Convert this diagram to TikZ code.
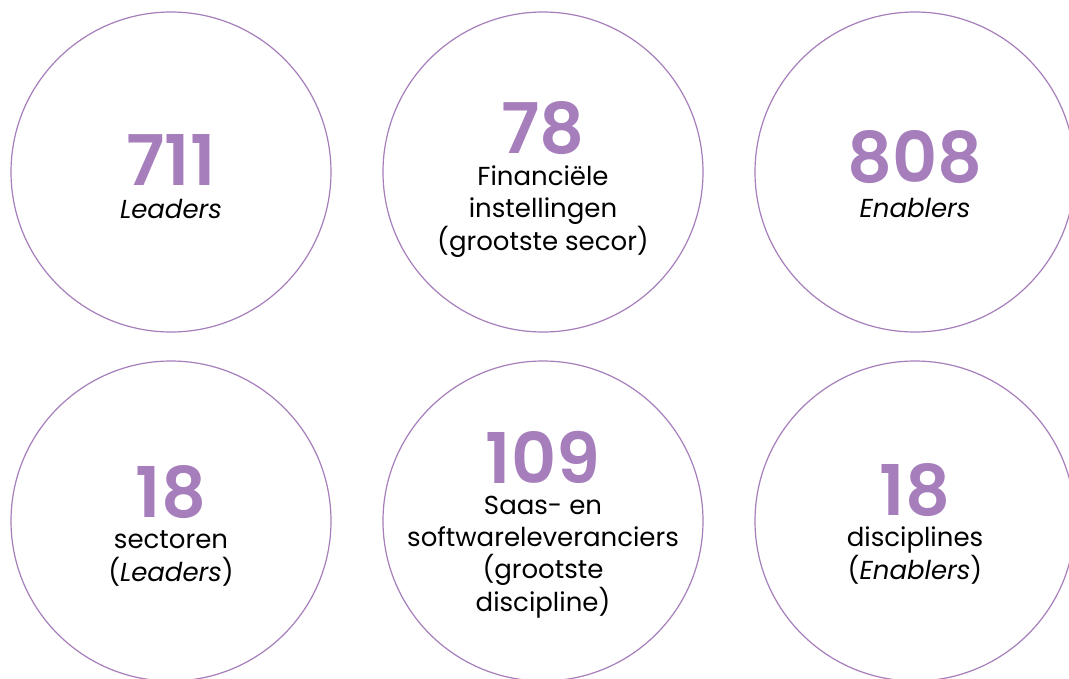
\documentclass[tikz,border=0pt]{standalone}
\usepackage{fontspec}
\setmainfont{Poppins}[UprightFont=*, ItalicFont=* Italic, BoldFont=* SemiBold, BoldFeatures={Numbers=Proportional}]
\usetikzlibrary{positioning}
\definecolor{statpurple}{HTML}{A67EBB}
\tikzset{
  ring/.style={circle,draw=statpurple,line width=1.2pt,minimum size=320pt,inner sep=0pt},
  bignum/.style={anchor=base,text=statpurple,inner sep=0pt,font=\fontsize{70}{70}\selectfont\bfseries},
  numtext/.style={anchor=base,align=center,inner sep=0pt,font=\fontsize{26}{32.3}\selectfont}
}

\begin{document}
\begin{tikzpicture}[x=1pt,y=-1pt] % key figures
        \clip (0,0) rectangle (1069,678);
        % top row
        \node[ring] (r1) at (171,172) {};
        \node[ring] (r2) at (543,172) {};
        \node[ring] (r3) at (915,172) {};
        % bottom row
        \node[ring] (r4) at (171,521) {};
        \node[ring] (r5) at (543,521) {};
        \node[ring] (r6) at (915,521) {};
        % numbers
        \node[bignum] (n1) at (171,185) {711};
        \node[bignum] (n2) at (543,153) {78};
        \node[bignum] (n3) at (915,182) {808};
        \node[bignum] (n4) at (171,517) {18};
        \node[bignum] (n5) at (543,483) {109};
        \node[bignum] (n6) at (915,515) {18};
        % texts (base = last line)
        \node[numtext] (t1) at (171,218) {\textit{Leaders}};
        \node[numtext] (t2) at (543,250) {Financiële\\instellingen\\(grootste secor)};
        \node[numtext] (t3) at (915,217) {\textit{Enablers}};
        \node[numtext] (t4) at (171,581) {sectoren\\(\textit{Leaders})};
        \node[numtext] (t5) at (543,611) {Saas- en\\softwareleveranciers\\(grootste\\discipline)};
        \node[numtext] (t6) at (915,579) {disciplines\\(\textit{Enablers})};
\end{tikzpicture}
\end{document}
